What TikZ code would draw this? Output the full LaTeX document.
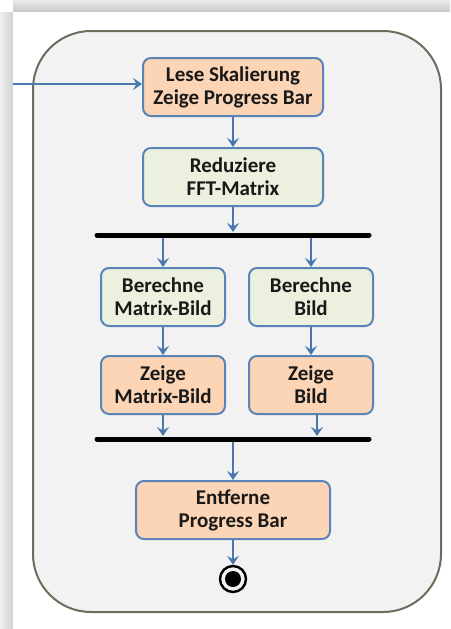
\documentclass[tikz,border=0pt]{standalone}
\usepackage{fontspec}
\setmainfont{Carlito}
\usetikzlibrary{arrows.meta}
\definecolor{frameline}{HTML}{6E6C5C}
\definecolor{framefill}{HTML}{F2F2F2}
\definecolor{boxline}{HTML}{5A84B8}
\definecolor{peach}{HTML}{FBD5B5}
\definecolor{mint}{HTML}{EBF1DE}
\definecolor{flow}{HTML}{4A78AE}
\tikzset{
  actbox/.style={draw=boxline, line width=2pt, rounded corners=8pt,
    minimum height=58pt, align=center, inner sep=0pt,
    font=\fontsize{21}{23}\selectfont\bfseries, text=black!90},
  warm/.style={actbox, fill=peach},
  cool/.style={actbox, fill=mint},
  flowarrow/.style={draw=flow, line width=2.2pt,
    -{Stealth[length=9pt,width=12pt,inset=3.5pt]}},
  syncbar/.style={line width=5pt, black, line cap=round}
}
\begin{document}
\begin{tikzpicture}[x=1pt,y=-1pt]
\useasboundingbox (0,0) rectangle (450,629);
% page with soft shadow on top and left
\fill[white] (0,0) rectangle (450,629);
\shade[top color=black!8, bottom color=black!22] (13,0) rectangle (450,12);
\shade[left color=black!6, right color=black!18] (0,12) rectangle (13,629);
\fill[white] (13,12) rectangle (450,629);
% activity frame
\draw[frameline, fill=framefill, line width=2pt, rounded corners=58pt]
  (33,31) rectangle (441,612);
% actions
\node[warm, minimum width=180pt] (lese) at (233,87) {Lese Skalierung\\Zeige Progress Bar};
\node[cool, minimum width=180pt] (red) at (233,177) {Reduziere\\FFT-Matrix};
\node[cool, minimum width=124pt] (bmb) at (163,297) {Berechne\\Matrix-Bild};
\node[cool, minimum width=124pt] (bb) at (311,297) {Berechne\\Bild};
\node[warm, minimum width=124pt] (zmb) at (163,385) {Zeige\\Matrix-Bild};
\node[warm, minimum width=124pt] (zb) at (311,385) {Zeige\\Bild};
\node[warm, minimum width=194pt] (ent) at (233,510) {Entferne\\Progress Bar};
% fork and join bars
\coordinate (forkL) at (97,235);
\coordinate (forkR) at (369,235);
\coordinate (joinL) at (97,439);
\coordinate (joinR) at (369,439);
\draw[syncbar] (forkL) -- (forkR);
\draw[syncbar] (joinL) -- (joinR);
% final node
\node[circle, draw=black, line width=2.4pt, minimum size=26pt, inner sep=0pt] (fin) at (233,579) {};
\fill[black] (fin.center) circle (8pt);
% flows
\coordinate (start) at (13,84);
\draw[flowarrow] (start) -- (lese.west |- start);
\draw[flowarrow] (lese) -- (red);
\draw[flowarrow] (red.south) -- (233,232);
\draw[flowarrow] (163,238) -- (bmb.north);
\draw[flowarrow] (311,238) -- (bb.north);
\draw[flowarrow] (bmb) -- (zmb);
\draw[flowarrow] (bb) -- (zb);
\draw[flowarrow] (zmb.south) -- (163,436);
\draw[flowarrow] (317,414) -- (317,436);
\draw[flowarrow] (233,442) -- (ent.north);
\draw[flowarrow] (ent) -- (fin);
\end{tikzpicture}
\end{document}
